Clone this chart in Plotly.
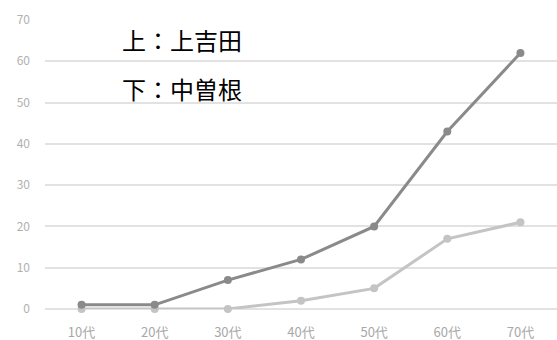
import plotly.graph_objects as go

categories = ["10代", "20代", "30代", "40代", "50代", "60代", "70代"]
kamiyoshida = [1, 1, 7, 12, 20, 43, 62]
nakasone = [0, 0, 0, 2, 5, 17, 21]
y_ticks = [0, 10, 20, 30, 40, 50, 60, 70]

fig = go.Figure()
fig.add_trace(go.Scatter(x=categories, y=nakasone, mode="lines+markers",
                         line=dict(color="#c4c4c4", width=3),
                         marker=dict(color="#c4c4c4", size=8), name="中曽根",
                         cliponaxis=False))
fig.add_trace(go.Scatter(x=categories, y=kamiyoshida, mode="lines+markers",
                         line=dict(color="#8a8a8a", width=3),
                         marker=dict(color="#8a8a8a", size=8), name="上吉田",
                         cliponaxis=False))

fig.add_annotation(x=0.146, y=65.2, xref="paper", yref="y", text="上：上吉田",
                   showarrow=False, xanchor="left", yanchor="middle",
                   font=dict(family="Noto Sans CJK JP", size=24, color="#000000"))
fig.add_annotation(x=0.146, y=53.5, xref="paper", yref="y", text="下：中曽根",
                   showarrow=False, xanchor="left", yanchor="middle",
                   font=dict(family="Noto Sans CJK JP", size=24, color="#000000"))

fig.update_layout(
    width=557, height=340,
    margin=dict(l=45, r=0, t=20, b=31),
    plot_bgcolor="white", paper_bgcolor="white",
    showlegend=False,
    font=dict(family="Noto Sans CJK JP", size=12, color="#aaaaaa"),
)
fig.update_xaxes(type="category", range=[-0.5, 6.5], showgrid=False, showline=False,
                 ticks="", ticklabelstandoff=14, tickfont=dict(size=13, color="#a8a8a8"))
fig.update_yaxes(range=[0, 70], tickvals=y_ticks, showgrid=True, gridcolor="#e2e2e2",
                 gridwidth=1.5, zeroline=True, zerolinecolor="#e2e2e2", zerolinewidth=1.5,
                 showline=False, ticks="", ticklabelstandoff=14,
                 tickfont=dict(size=12, color="#b0b0b0"))

fig.write_html("out.html")
